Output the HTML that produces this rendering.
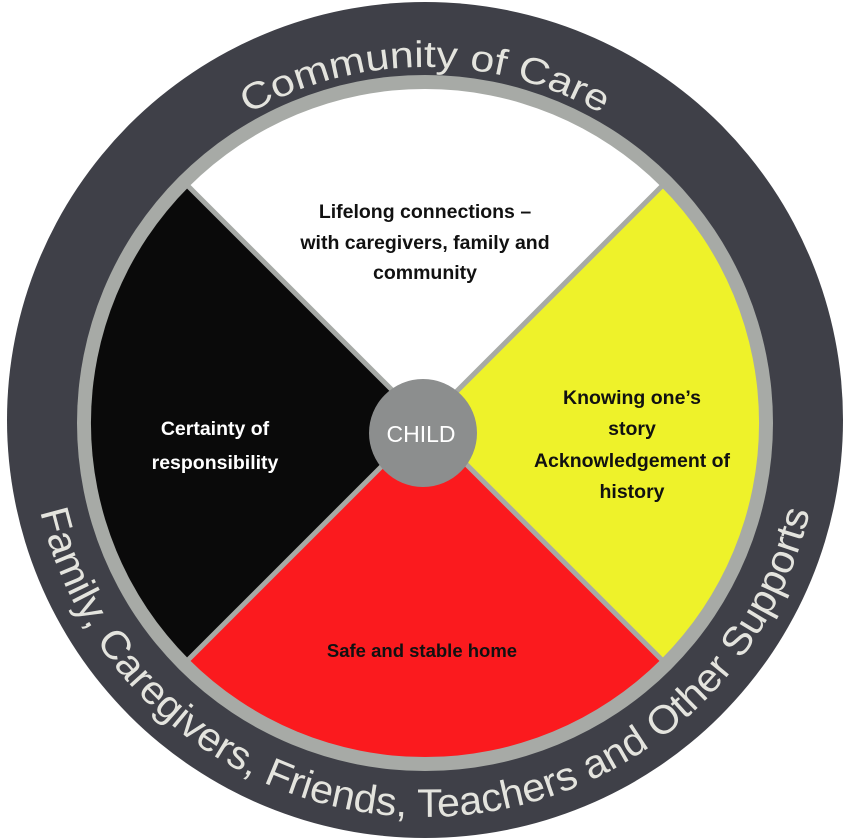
<!DOCTYPE html>
<html><head><meta charset="utf-8"><style>
html,body{margin:0;padding:0;background:#fff;}
svg{display:block;}
.q{font-family:"Liberation Sans",sans-serif;font-weight:bold;font-size:19.5px;text-anchor:middle;}
</style></head><body>
<svg width="850" height="839" viewBox="0 0 850 839" xmlns="http://www.w3.org/2000/svg">
<defs>
<path id="topArc" d="M 69 423 A 356 356 0 0 1 781 423"/>
<path id="botArc" d="M 30 422 A 395 395 0 0 0 820 422"/>
</defs>
<circle cx="425" cy="420" r="418" fill="#3f4048"/>
<circle cx="425" cy="423" r="348" fill="#a7aaa6"/>
<g transform="translate(425,423)">
<path d="M0 0 L-236.2 -236.2 A334 334 0 0 1 236.2 -236.2 Z" fill="#ffffff"/>
<path d="M0 0 L236.2 -236.2 A334 334 0 0 1 236.2 236.2 Z" fill="#eef22a"/>
<path d="M0 0 L236.2 236.2 A334 334 0 0 1 -236.2 236.2 Z" fill="#fb1a1e"/>
<path d="M0 0 L-236.2 236.2 A334 334 0 0 1 -236.2 -236.2 Z" fill="#0a0a0a"/>
<line x1="-238" y1="-238" x2="238" y2="238" stroke="#a7aaa6" stroke-width="5"/>
<line x1="238" y1="-238" x2="-238" y2="238" stroke="#a7aaa6" stroke-width="5"/>
</g>
<circle cx="423" cy="433" r="54" fill="#8c8e8e"/>
<text x="421" y="442" font-family="Liberation Sans, sans-serif" font-size="23" fill="#fff" text-anchor="middle">CHILD</text>

<text class="q" fill="#111"><tspan x="425" y="218">Lifelong connections –</tspan><tspan x="425" y="249">with caregivers, family and</tspan><tspan x="425" y="279">community</tspan></text>
<text class="q" fill="#fff"><tspan x="215" y="435">Certainty of</tspan><tspan x="215" y="469">responsibility</tspan></text>
<text class="q" fill="#111"><tspan x="632" y="404">Knowing one’s</tspan><tspan x="632" y="435">story</tspan><tspan x="632" y="467">Acknowledgement of</tspan><tspan x="632" y="498">history</tspan></text>
<text class="q" fill="#111" style="font-size:18.5px"><tspan x="422" y="657">Safe and stable home</tspan></text>

<text font-family="Liberation Sans, sans-serif" font-size="37" fill="#e4e4de" text-anchor="middle">
<textPath href="#topArc" startOffset="50%" textLength="370" lengthAdjust="spacingAndGlyphs">Community of Care</textPath></text>
<text font-family="Liberation Sans, sans-serif" font-size="40" fill="#e4e4de" text-anchor="middle">
<textPath href="#botArc" startOffset="50%" textLength="1060" lengthAdjust="spacingAndGlyphs">Family, Caregivers, Friends, Teachers and Other Supports</textPath></text>
</svg>
</body></html>
